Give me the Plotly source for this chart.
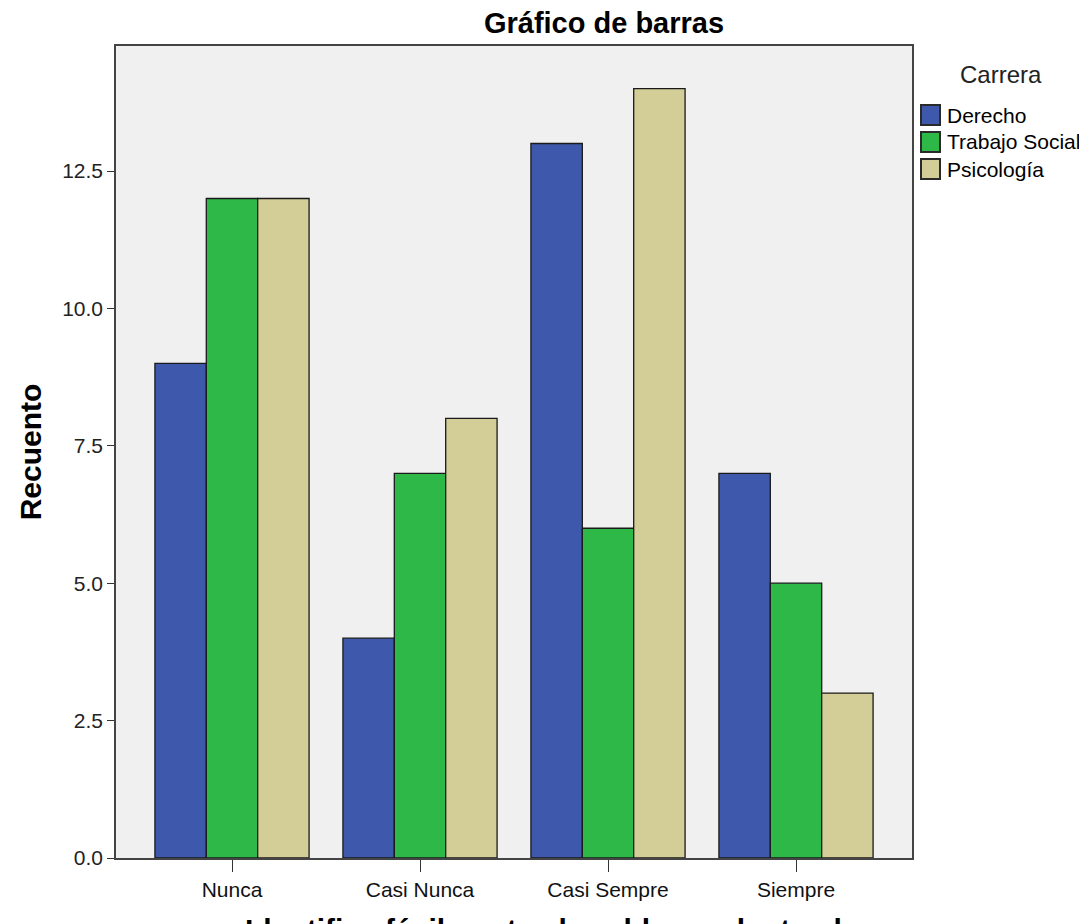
import plotly.graph_objects as go

categories = ["Nunca", "Casi Nunca", "Casi Sempre", "Siempre"]
derecho = [9, 4, 13, 7]
trabajo_social = [12, 7, 6, 5]
psicologia = [12, 8, 14, 3]
series_names = ["Derecho", "Trabajo Social", "Psicología"]
legend_title = "Carrera"
y_ticks = [0, 2.5, 5, 7.5, 10, 12.5]
y_tick_labels = ["0.0", "2.5", "5.0", "7.5", "10.0", "12.5"]

colors = ["#3E58AC", "#2EB848", "#D3CE97"]
FONT = "Arial, Liberation Sans, sans-serif"

W, H = 1079, 916
L, T, R, B = 108, 38, 175, 66
PW, PH = W - L - R, H - T - B
OFF = 8  # page offset of the figure


def px(x):
    return (x - OFF - L) / PW


def py(y):
    return (H - B - (y - OFF)) / PH


fig = go.Figure()
for name, vals, col in zip(series_names, [derecho, trabajo_social, psicologia], colors):
    fig.add_trace(go.Bar(
        x=categories, y=vals, name=name,
        marker=dict(color=col, line=dict(color="#1a1a1a", width=1.3)),
    ))

fig.update_layout(
    width=W, height=H,
    margin=dict(l=L, r=R, t=T, b=B),
    paper_bgcolor="white",
    plot_bgcolor="#F0F0F0",
    barmode="group",
    bargap=0.18, bargroupgap=0,
    font=dict(family=FONT, color="#000000", size=21),
    title=dict(text="<b>Gráfico de barras</b>", x=(604 - OFF)/W, xanchor="center",
               y=1 - (23 - OFF)/H, yanchor="middle", font=dict(size=29, family=FONT)),
    showlegend=False,
    xaxis=dict(
        range=[-0.617, 3.617], showgrid=False, zeroline=False,
        showline=True, linecolor="#444444", linewidth=1.5, mirror=True,
        ticks="outside", ticklen=12, tickcolor="#333333", tickwidth=1.2,
        tickfont=dict(size=21, family=FONT, color="#111111"),
    ),
    yaxis=dict(
        range=[0, (858 - 46)/54.96], showgrid=False, zeroline=False,
        showline=True, linecolor="#444444", linewidth=1.5, mirror=True,
        ticks="outside", ticklen=7, tickcolor="#333333", tickwidth=1.2,
        tickvals=y_ticks, ticktext=y_tick_labels,
        tickfont=dict(size=21, family=FONT, color="#222222"),
        title=dict(text="<b>Recuento</b>", font=dict(size=30, family=FONT), standoff=12),
    ),
)

# Legend drawn by hand (square swatches as in the reference)
fig.add_annotation(
    text=legend_title, xref="paper", yref="paper", x=px(1001), y=py(75),
    xanchor="center", yanchor="middle", showarrow=False,
    font=dict(size=24, family=FONT, color="#222222"),
)
for i, (name, col) in enumerate(zip(series_names, colors)):
    yc = 115 + 27 * i
    fig.add_shape(
        type="rect", xref="paper", yref="paper",
        x0=px(921), x1=px(940), y0=py(yc - 10), y1=py(yc + 10),
        fillcolor=col, line=dict(color="#2a2a2a", width=2), layer="above",
    )
    fig.add_annotation(
        text=name, xref="paper", yref="paper", x=px(945), y=py(yc),
        xanchor="left", yanchor="middle", showarrow=False,
        font=dict(size=21, family=FONT, color="#000000"),
    )

# X-axis title, mostly cut off at the bottom edge as in the reference
fig.add_annotation(
    text="<b>Identifica fácilmente el problema planteado</b>",
    xref="paper", yref="paper", x=px(552), y=py(911),
    xanchor="center", yanchor="top", showarrow=False,
    font=dict(size=30, family=FONT, color="#000000"),
)

fig.write_html("out.html")
